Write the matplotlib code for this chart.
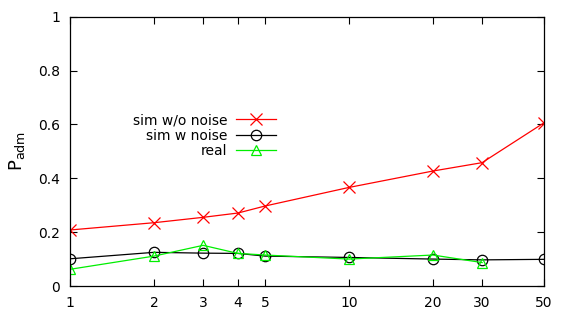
import matplotlib
matplotlib.use("Agg")
import matplotlib.pyplot as plt
from matplotlib.ticker import FixedLocator, FixedFormatter, NullLocator

plt.rcParams['font.family'] = ['DejaVu Sans']

# x values (log axis)
x_vals = [1, 2, 3, 4, 5, 10, 20, 30, 50]
x_real = [1, 2, 3, 4, 5, 10, 20, 30]

sim_no_noise = [0.208, 0.235, 0.255, 0.271, 0.297, 0.366, 0.427, 0.458, 0.606]
sim_noise = [0.101, 0.125, 0.122, 0.121, 0.111, 0.106, 0.100, 0.097, 0.099]
real = [0.062, 0.111, 0.151, 0.121, 0.115, 0.100, 0.115, 0.087]

x_ticks = [1, 2, 3, 4, 5, 10, 20, 30, 50]
y_ticks = [0, 0.2, 0.4, 0.6, 0.8, 1]
y_labels = ["0", "0.2", "0.4", "0.6", "0.8", "1"]

fig = plt.figure(figsize=(5.68, 3.19), dpi=100)
ax = fig.add_axes([70/568, 1-286/319, 474/568, (286-16.7)/319])

ax.plot(x_vals, sim_no_noise, color='#ff0000', lw=0.9, marker='x',
        ms=9, mew=0.9, label='sim w/o noise')
ax.plot(x_vals, sim_noise, color='black', lw=0.9, marker='o',
        ms=7.5, mfc='none', mew=0.9, label='sim w noise')
ax.plot(x_real, real, color='#00ee00', lw=0.9, marker='^',
        ms=7.5, mfc='none', mew=0.9, label='real')

ax.set_xscale('log')
ax.set_xlim(1, 50)
ax.set_ylim(0, 1)
ax.xaxis.set_major_locator(FixedLocator(x_ticks))
ax.xaxis.set_major_formatter(FixedFormatter([str(t) for t in x_ticks]))
ax.xaxis.set_minor_locator(NullLocator())
ax.set_yticks(y_ticks)
ax.set_yticklabels(y_labels)
ax.tick_params(direction='in', top=True, right=True, length=5, width=0.8,
               labelsize=10, pad=7)
for s in ax.spines.values():
    s.set_linewidth(0.9)

ax.set_ylabel(r'P$_{\mathrm{adm}}$', fontsize=13, labelpad=8)

ax.legend(loc='upper right', bbox_to_anchor=(276/568, 1-113/319),
          bbox_transform=fig.transFigure, frameon=False, markerfirst=False,
          numpoints=1, fontsize=10, handlelength=2.9, handletextpad=0.6,
          labelspacing=0.12, borderpad=0, borderaxespad=0)

fig.savefig('out.png', dpi=100)
